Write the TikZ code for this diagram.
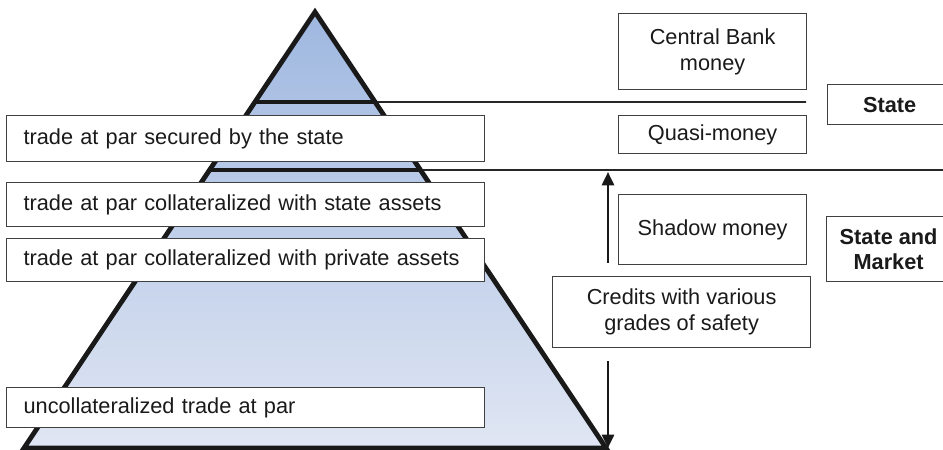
\documentclass[tikz,border=0pt]{standalone}
\usepackage{fontspec}
\setmainfont{Liberation Sans}
\usetikzlibrary{calc,arrows.meta}
\definecolor{pyrtop}{HTML}{9FB8E0}
\definecolor{pyrbot}{HTML}{E0E6F3}
\definecolor{boxline}{HTML}{404040}
\definecolor{txt}{HTML}{1A1A1A}
\begin{document}
\begin{tikzpicture}[x=0.75pt,y=-0.75pt,
  font=\fontsize{16.3}{19.5}\selectfont,
  every node/.style={text=txt},
  leftbox/.style={draw=boxline,line width=0.9pt,fill=white,anchor=north west,
    minimum width=358.5pt,inner xsep=12.75pt,inner ysep=0pt,text width=333pt,align=left},
  rightbox/.style={draw=boxline,line width=0.9pt,fill=white,anchor=north west,
    inner sep=0pt,align=center},
  tagbox/.style={rightbox,font=\fontsize{16.3}{19}\selectfont\bfseries},
  thickline/.style={line width=3pt,black!90},
  thinline/.style={line width=1.2pt,black!85},
  arr/.style={line width=2pt,black!90,-{Triangle[length=10pt,width=9pt]}}]
\useasboundingbox (0,0) rectangle (943,450);
\clip (0,0) rectangle (943,450);
% pyramid
\coordinate (A) at (315,12);
\coordinate (BL) at (24,448);
\coordinate (BR) at (606,448);
\fill[top color=pyrtop,bottom color=pyrbot] (A) -- (BL) -- (BR) -- cycle;
\coordinate (l1) at ($(A)!{90/436}!(BL)$);
\coordinate (r1) at ($(A)!{90/436}!(BR)$);
\coordinate (l2) at ($(A)!{158/436}!(BL)$);
\coordinate (r2) at ($(A)!{158/436}!(BR)$);
\coordinate (e1) at (806,102);
\coordinate (e2) at (960,170);
\draw[thickline] (l1) -- (r1);
\draw[thickline] (l2) -- (r2);
\draw[thinline] (r1) -- (e1);
\draw[thinline] (r2) -- (e2);
\draw[line width=3.6pt,black!90,line join=miter] (A) -- (BL) -- (BR) -- cycle;
% left boxes
\node[leftbox,minimum height=34.5pt] (L1) at (6,115) {\mbox{trade at par secured by the state}};
\node[leftbox,minimum height=33pt] (L2) at (6,182) {\mbox{trade at par collateralized with state assets}};
\node[leftbox,minimum height=32.25pt] (L3) at (6,238) {\mbox{trade at par collateralized with private assets}};
\node[leftbox,minimum height=30pt] (L4) at (6,387) {\mbox{uncollateralized trade at par}};
% right boxes
\node[rightbox,minimum width=141pt,minimum height=57pt] (CB) at (618,13) {Central Bank\\money};
\node[rightbox,minimum width=141pt,minimum height=28.5pt] (QM) at (618,115) {Quasi-money};
\node[rightbox,minimum width=141pt,minimum height=52.5pt] (SM) at (618,194) {Shadow money};
\node[rightbox,minimum width=193.5pt,minimum height=53.25pt] (CR) at (552,276) {Credits with various\\grades of safety};
\node[tagbox,minimum width=93pt,minimum height=30pt] (ST) at (827,84) {State};
\node[tagbox,minimum width=93pt,minimum height=48.75pt] (STM) at (826,216) {State and\\Market};
% arrows
\coordinate (upS) at (608,263);
\coordinate (upE) at (608,172);
\coordinate (dnS) at (608,361);
\coordinate (dnE) at (608,448);
\draw[arr] (upS) -- (upE);
\draw[arr] (dnS) -- (dnE);
\end{tikzpicture}
\end{document}
